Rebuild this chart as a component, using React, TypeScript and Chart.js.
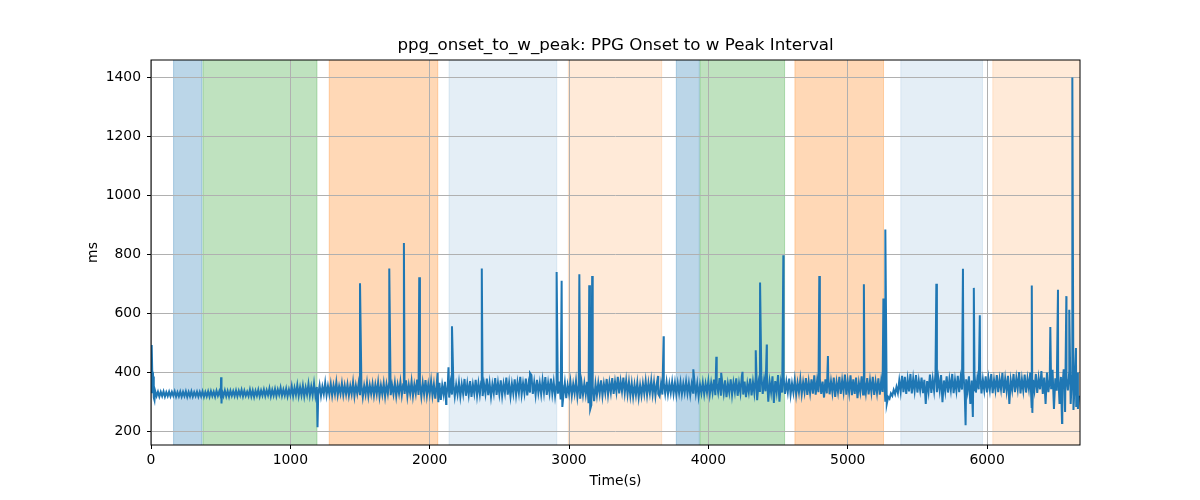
import { useEffect, useRef } from "react";
import { Chart, registerables } from "chart.js";

Chart.register(...registerables);

const TITLE = "ppg_onset_to_w_peak: PPG Onset to w Peak Interval";
const X_LABEL = "Time(s)";
const Y_LABEL = "ms";
const FONT = '"DejaVu Sans", "Liberation Sans", sans-serif';

// baseline samples, one every 10 s starting at 0 s
const baseStart = 0;
const baseStep = 10;
const baseline = [
  332, 378, 314, 336, 319, 334, 317, 333, 319, 335, 317, 332, 319, 334, 318, 333, 320, 335, 317, 332,
  318, 334, 317, 333, 319, 335, 316, 333, 318, 335, 317, 332, 319, 334, 317, 333, 318, 335, 316, 333,
  318, 335, 317, 336, 319, 334, 317, 337, 320, 335, 318, 336, 319, 338, 318, 336, 317, 337, 320, 336,
  319, 338, 318, 337, 321, 340, 318, 337, 320, 334, 319, 341, 318, 338, 316, 337, 320, 340, 318, 338,
  321, 341, 319, 339, 322, 345, 318, 340, 321, 343, 319, 341, 323, 347, 320, 341, 321, 344, 318, 341,
  322, 352, 319, 347, 323, 356, 320, 349, 322, 354, 318, 348, 324, 360, 321, 351, 322, 362, 320, 350,
  324, 356, 320, 351, 326, 364, 322, 353, 325, 360, 321, 355, 326, 366, 322, 352, 327, 362, 323, 355,
  325, 358, 321, 353, 326, 366, 319, 355, 327, 362, 322, 357, 316, 354, 325, 364, 320, 356, 326, 360,
  321, 357, 326, 366, 318, 355, 325, 362, 318, 358, 327, 368, 322, 356, 326, 364, 319, 357, 328, 367,
  322, 359, 326, 372, 319, 357, 327, 369, 320, 358, 328, 375, 323, 360, 318, 364, 326, 373, 321, 359,
  326, 370, 321, 359, 310, 357, 323, 364, 306, 356, 325, 367, 320, 358, 314, 362, 324, 360, 318, 357,
  325, 365, 318, 359, 327, 377, 320, 361, 323, 370, 316, 358, 328, 374, 321, 362, 325, 368, 319, 360,
  327, 378, 322, 363, 317, 359, 329, 380, 323, 364, 326, 372, 320, 361, 330, 382, 324, 364, 318, 361,
  328, 376, 323, 365, 330, 384, 325, 363, 329, 378, 321, 362, 331, 390, 326, 366, 323, 374, 330, 364,
  325, 372, 331, 383, 323, 364, 329, 378, 327, 367, 320, 360, 327, 368, 308, 357, 323, 364, 312, 356,
  327, 368, 320, 360, 328, 370, 317, 358, 310, 364, 323, 362, 325, 367, 295, 357, 288, 352, 302, 360,
  322, 364, 327, 372, 320, 361, 329, 377, 324, 365, 331, 380, 326, 368, 333, 384, 328, 370, 335, 382,
  330, 372, 325, 367, 321, 362, 317, 358, 323, 364, 315, 356, 321, 362, 327, 370, 323, 364, 329, 372,
  325, 366, 320, 362, 327, 318, 360, 324, 364, 328, 367, 326, 362, 330, 368, 327, 364, 324, 362, 329,
  366, 326, 361, 330, 368, 328, 363, 323, 360, 330, 369, 327, 362, 318, 358, 329, 365, 325, 361, 331,
  370, 325, 364, 331, 375, 322, 362, 332, 380, 320, 364, 328, 372, 315, 361, 331, 376, 323, 365, 333,
  379, 320, 363, 330, 386, 324, 368, 315, 361, 332, 378, 321, 367, 329, 384, 305, 364, 333, 390, 326,
  374, 335, 392, 300, 367, 332, 386, 296, 370, 333, 390, 300, 364, 331, 384, 326, 367, 333, 378, 324,
  362, 331, 374, 324, 364, 332, 376, 326, 366, 333, 380, 323, 368, 330, 376, 327, 389, 324, 370, 332,
  380, 326, 368, 314, 376, 328, 386, 325, 369, 331, 382, 316, 366, 333, 384, 326, 372, 334, 392, 324,
  370, 331, 389, 322, 376, 326, 382, 312, 364, 333, 386, 324, 368, 330, 380, 325, 372, 332, 384, 323,
  367, 330, 379, 324, 370, 333, 386, 300, 292, 316, 310, 328, 320, 340, 326, 350, 330, 372, 334, 388,
  332, 384, 326, 376, 335, 394, 328, 378, 337, 390, 331, 372, 339, 382, 329, 374, 292, 370, 334, 392,
  330, 376, 337, 396, 332, 379, 339, 390, 298, 372, 335, 386, 331, 376, 340, 394, 329, 374, 337, 388,
  332, 380, 341, 398, 326, 376, 337, 386, 292, 372, 339, 392, 331, 378, 342, 397, 328, 375, 338, 386,
  331, 379, 341, 394, 329, 374, 339, 390, 332, 376, 342, 398, 330, 378, 337, 388, 292, 372, 340, 394,
  332, 380, 343, 400, 328, 376, 338, 392, 331, 378, 344, 399, 282, 374, 339, 394, 330, 380, 342, 404,
  326, 382, 292, 399, 332, 376, 342, 408, 275, 379, 337, 402, 292, 384, 343, 410, 265, 379, 338, 404,
  292, 386, 272, 374, 282, 399, 320,
];

// isolated spikes and dips (time in s, value in ms)
const spikeTimes = [
  5, 15, 25, 503, 506, 1195, 1500, 1710, 1815, 1925, 2057, 2062, 2118, 2135, 2160, 2374, 2720,
  2911, 2947, 2952, 3074, 3145, 3152, 3166, 3639, 3679, 3892, 4057, 4092, 4245, 4340, 4371, 4419,
  4538, 4796, 4858, 5116, 5256, 5270, 5636, 5827, 5846, 5898, 5905, 5948, 6321, 6325, 6454, 6509,
  6538, 6569, 6590, 6612, 6638, 6652,
];
const spikeValues = [
  492, 385, 305, 383, 294, 213, 702, 752, 838, 722, 398, 298, 292, 417, 556, 752, 397,
  740, 710, 282, 732, 695, 274, 726, 387, 522, 410, 452, 398, 401, 474, 704, 494,
  797, 726, 455, 698, 650, 884, 700, 751, 220, 248, 686, 593, 694, 262, 553, 680,
  228, 658, 612, 1400, 482, 275,
];

// shaded phases
const bandStarts = [162, 373, 1279, 2139, 2995, 3770, 3940, 4621, 5381, 6041];
const bandEnds = [366, 1191, 2058, 2912, 3665, 3935, 4547, 5257, 5967, 6667];
const bandColors = [
  "rgba(31,119,180,0.3)",
  "rgba(44,160,44,0.3)",
  "rgba(255,127,14,0.3)",
  "rgba(31,119,180,0.12)",
  "rgba(255,127,14,0.16)",
  "rgba(31,119,180,0.3)",
  "rgba(44,160,44,0.3)",
  "rgba(255,127,14,0.3)",
  "rgba(31,119,180,0.12)",
  "rgba(255,127,14,0.16)",
];

const xTicks = [0, 1000, 2000, 3000, 4000, 5000, 6000];
const yTicks = [200, 400, 600, 800, 1000, 1200, 1400];
const xMin = 0;
const xMax = 6667;
const yMin = 153;
const yMax = 1459;

const bandsPlugin = {
  id: "bands",
  beforeDraw(chart: any) {
    const { ctx, chartArea, scales } = chart;
    ctx.save();
    bandStarts.forEach((s, i) => {
      const x0 = scales.x.getPixelForValue(s);
      const x1 = Math.min(scales.x.getPixelForValue(bandEnds[i]), chartArea.right);
      ctx.fillStyle = bandColors[i];
      ctx.fillRect(x0, chartArea.top, x1 - x0, chartArea.bottom - chartArea.top);
      ctx.strokeStyle = bandColors[i];
      ctx.lineWidth = 1;
      ctx.beginPath();
      ctx.moveTo(x0, chartArea.top);
      ctx.lineTo(x0, chartArea.bottom);
      if (x1 < chartArea.right - 1) {
        ctx.moveTo(x1, chartArea.top);
        ctx.lineTo(x1, chartArea.bottom);
      }
      ctx.stroke();
    });
    ctx.restore();
  },
  afterDraw(chart: any) {
    const { ctx, chartArea } = chart;
    ctx.save();
    ctx.strokeStyle = "#000";
    ctx.lineWidth = 1;
    ctx.strokeRect(chartArea.left, chartArea.top, chartArea.right - chartArea.left, chartArea.bottom - chartArea.top);
    const cx = (chartArea.left + chartArea.right) / 2;
    ctx.fillStyle = "#000";
    ctx.textAlign = "center";
    ctx.textBaseline = "middle";
    ctx.font = `16.7px ${FONT}`;
    ctx.fillText(TITLE, cx, 46);
    ctx.font = `13.9px ${FONT}`;
    ctx.fillText(X_LABEL, cx, 481);
    ctx.translate(93, (chartArea.top + chartArea.bottom) / 2);
    ctx.rotate(-Math.PI / 2);
    ctx.fillText(Y_LABEL, 0, 0);
    ctx.restore();
  },
};

const App = () => {
  const canvasRef = useRef<HTMLCanvasElement | null>(null);
  const chartRef = useRef<Chart | null>(null);

  useEffect(() => {
    document.body.style.margin = "0";
    if (!canvasRef.current) return;
    const ctx = canvasRef.current.getContext("2d");
    if (!ctx) return;

    const points = baseline.map((v, i) => ({ x: baseStart + i * baseStep, y: v }));
    spikeTimes.forEach((t, i) => points.push({ x: t, y: spikeValues[i] }));
    points.sort((a, b) => a.x - b.x);

    chartRef.current = new Chart(ctx, {
      type: "line",
      data: {
        datasets: [
          {
            data: points,
            borderColor: "#1f77b4",
            borderWidth: 2,
            pointRadius: 0,
            tension: 0,
            fill: false,
          },
        ],
      },
      options: {
        responsive: false,
        animation: false,
        events: [],
        layout: { padding: { top: 60, right: 120, bottom: 0, left: 0 } },
        plugins: {
          legend: { display: false },
          title: { display: false },
          tooltip: { enabled: false },
        },
        scales: {
          x: {
            type: "linear",
            min: xMin,
            max: xMax,
            afterBuildTicks: (scale: any) => {
              scale.ticks = xTicks.map((v) => ({ value: v }));
            },
            afterFit: (scale: any) => {
              scale.height = 55;
            },
            grid: { color: "#b0b0b0", tickColor: "#000", tickLength: 4, lineWidth: 1 },
            border: { display: false },
            ticks: {
              color: "#000",
              font: { family: FONT, size: 13.9 },
              padding: 3,
              maxRotation: 0,
              callback: (v: any) => String(v),
            },
          },
          y: {
            type: "linear",
            min: yMin,
            max: yMax,
            afterBuildTicks: (scale: any) => {
              scale.ticks = yTicks.map((v) => ({ value: v }));
            },
            afterFit: (scale: any) => {
              scale.width = 151;
            },
            grid: { color: "#b0b0b0", tickColor: "#000", tickLength: 4, lineWidth: 1 },
            border: { display: false },
            ticks: {
              color: "#000",
              font: { family: FONT, size: 13.9 },
              padding: 6,
              callback: (v: any) => String(v),
            },
          },
        },
      },
      plugins: [bandsPlugin],
    });

    return () => {
      if (chartRef.current) {
        chartRef.current.destroy();
        chartRef.current = null;
      }
    };
  }, []);

  return (
    <div style={{ width: 1200, height: 500, background: "#fff" }}>
      <canvas ref={canvasRef} width={1200} height={500} style={{ width: 1200, height: 500 }} />
    </div>
  );
};

export default App;
